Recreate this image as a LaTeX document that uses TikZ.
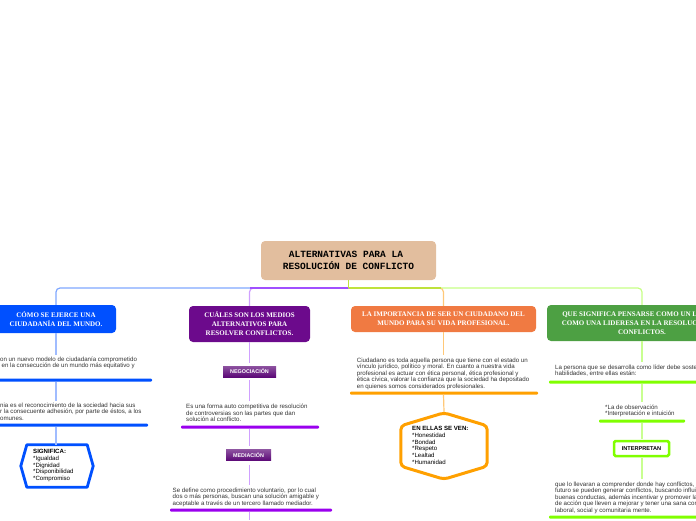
\documentclass[tikz,border=0pt]{standalone}
\usepackage{fontspec}
\setmainfont{Liberation Sans}
\newfontfamily\headfont{Liberation Serif}
\newfontfamily\rootfont{Liberation Mono}
\usetikzlibrary{calc}
\definecolor{rootc}{HTML}{E2BE9E}
\definecolor{blueC}{HTML}{0050FF}
\definecolor{blueL}{HTML}{80A8FF}
\definecolor{blueV}{HTML}{A0BCFF}
\definecolor{purpC}{HTML}{6C0A8C}
\definecolor{purpH}{HTML}{A050FF}
\definecolor{purpV}{HTML}{D0A0FF}
\definecolor{purpT}{HTML}{9A00EE}
\definecolor{orC}{HTML}{F07A42}
\definecolor{orH}{HTML}{BEE23C}
\definecolor{orV}{HTML}{FFC878}
\definecolor{orT}{HTML}{FFA000}
\definecolor{grC}{HTML}{4DA043}
\definecolor{grH}{HTML}{C6FF86}
\definecolor{grV}{HTML}{C8FF90}
\definecolor{grT}{HTML}{80FF00}
\definecolor{bodyc}{HTML}{333333}
\begin{document}
\begin{tikzpicture}[x=1pt,y=-1pt,
  rootbox/.style={fill=rootc, rounded corners=4pt, minimum width=175pt, minimum height=39pt, inner sep=0pt,
    font=\rootfont\bfseries\fontsize{9.5}{12}\selectfont, align=center},
  headbox/.style={rounded corners=4pt, text=white, inner sep=0pt, align=center,
    font=\headfont\bfseries\fontsize{7}{9}\selectfont},
  body/.style={font=\fontsize{6.15}{6.5}\selectfont, text=bodyc, align=left, inner sep=0pt, anchor=north west},
  hexbody/.style={font=\fontsize{6.1}{6.7}\selectfont, text=black, align=left, inner sep=0pt, anchor=north west},
  bar/.style={minimum height=3pt, inner sep=0pt, rounded corners=1pt},
  tagbox/.style={inner sep=0pt, text=white, font=\bfseries\fontsize{5.4}{6}\selectfont,
    top color=#1!70!white, bottom color=#1},
  conn/.style={line width=1.2pt},
  hexshape/.style={minimum width=#1, inner sep=0pt}
]
\useasboundingbox (0,0) rectangle (696,520);

% root
\node[rootbox] (root) at (348.5,260.5) {ALTERNATIVAS PARA LA\hspace*{5pt}\\RESOLUCIÓN DE CONFLICTO};

% branch heads
\node[headbox, fill=blueC, minimum width=120pt, minimum height=28pt] (b1) at (56,319)
  {CÓMO SE EJERCE UNA\\CIUDADANÍA DEL MUNDO.};
\node[headbox, fill=purpC, minimum width=121pt, minimum height=36pt] (p1) at (249.5,324)
  {CUÁLES SON LOS MEDIOS\\ALTERNATIVOS PARA\\RESOLVER CONFLICTOS.};
\node[headbox, fill=orC, minimum width=185pt, minimum height=26pt] (o1) at (443.5,319)
  {LA IMPORTANCIA DE SER UN CIUDADANO DEL\\MUNDO PARA SU VIDA PROFESIONAL.};
\node[headbox, fill=grC, minimum width=190pt, minimum height=36pt] (g1) at (642,323)
  {QUE SIGNIFICA PENSARSE COMO UN LÍDER O\\COMO UNA LIDERESA EN LA RESOLUCIÓN DE\\CONFLICTOS.};

% top connectors
\coordinate (jn) at (348.5,288);
\draw[conn, blueL, rounded corners=4pt] (jn) -| (b1.north);
\draw[conn, purpV, rounded corners=4pt] (jn) -| (p1.north);
\draw[conn, purpH] (jn) -- (jn -| p1.north);
\draw[conn, grH, rounded corners=4pt] (jn) -| (g1.north);
\draw[conn, orV, rounded corners=4pt] (jn) -| (o1.north);
\draw[conn, orH] (jn) -- ([xshift=-3pt]jn -| o1.north);
\draw[conn, orH] (root.south) -- (jn);

% ---------- blue column
\node[body] (t1a) at (0,356.5) {on un nuevo modelo de ciudadanía comprometido\\\hspace*{1.5pt}en la consecución de un mundo más equitativo y};
\node[bar, fill=blueC, minimum width=157pt] (u1a) at (73.5,380) {};
\node[body] (t1b) at (0,402.5) {nia es el reconocimiento de la sociedad hacia sus\\r la consecuente adhesión, por parte de éstos, a los\\omunes.};
\node[bar, fill=blueC, minimum width=153pt] (u1b) at (71.5,425) {};
\node[hexshape=60pt, minimum height=42pt] (h1) at (57,466) {};
\draw[blueC, line width=2.8pt, line join=round] (h1.north west) -- (h1.north east) -- ([xshift=6pt]h1.east)
  -- (h1.south east) -- (h1.south west) -- ([xshift=-6pt]h1.west) -- cycle;
\node[hexbody] (h1t) at (33,449.3) {\textbf{SIGNIFICA:}\\*Igualdad\\*Dignidad\\*Disponibilidad\\*Compromiso};
\draw[conn, blueV, shorten >=1.5pt] (b1.south) -- (b1.south |- t1a.north);
\draw[conn, blueV, shorten >=1.5pt] (u1a.south -| b1.south) -- (t1b.north -| b1.south);
\draw[conn, blueV] (u1b.south -| b1.south) -- (h1.north -| b1.south);

% ---------- purple column
\node[tagbox=purpC!85!black, minimum width=53pt, minimum height=11pt] (neg) at (249.5,371.5) {NEGOCIACIÓN};
\node[body] (tp1) at (186,404) {Es una forma auto competitiva de resolución\\de controversias son las partes que dan\\solución al conflicto.};
\node[bar, fill=purpT, minimum width=138pt] (up1) at (250,427) {};
\node[tagbox=purpC!85!black, minimum width=45pt, minimum height=11pt] (med) at (248.5,455) {MEDIACIÓN};
\node[body] (tp2) at (172.5,487.5) {Se define como procedimiento voluntario, por lo cual\\dos o más personas, buscan una solución amigable y\\aceptable a través de un tercero llamado mediador.};
\node[bar, fill=purpT, minimum width=162pt] (up2) at (251,510) {};
\coordinate (pend) at (249.5,520);
\draw[conn, purpV, shorten >=3pt] (p1.south) -- (neg.north);
\draw[conn, purpV, shorten <=3pt, shorten >=3pt] (neg.south) -- (neg.south |- tp1.north);
\draw[conn, purpV, shorten >=3pt] (up1.south -| p1.south) -- (med.north -| p1.south);
\draw[conn, purpV, shorten <=4pt, shorten >=3pt] (med.south -| p1.south) -- (tp2.north -| p1.south);
\draw[conn, purpV] (up2.south -| p1.south) -- (pend);

% ---------- orange column
\node[body] (to1) at (356.7,357.5) {Ciudadano es toda aquella persona que tiene con el estado un\\vínculo jurídico, político y moral. En cuanto a nuestra vida\\profesional es actuar con ética personal, ética profesional y\\ética cívica, valorar la confianza que la sociedad ha depositado\\en quienes somos considerados profesionales.};
\node[bar, fill=orT, minimum width=188pt] (uo1) at (444,393) {};
\node[hexshape=86pt, minimum height=40pt] (oh) at (444,446) {};
\draw[orT, line width=3pt, rounded corners=4pt] (oh.north west) -- ([yshift=13pt]oh.north) -- (oh.north east)
  -- (oh.south east) -- ([yshift=-13pt]oh.south) -- (oh.south west) -- cycle;
\node[hexbody] (oht) at (412,426.3) {\textbf{EN ELLAS SE VEN:}\\*Honestidad\\*Bondad\\*Respeto\\*Lealtad\\*Humanidad};
\draw[conn, orV, shorten >=3pt] (o1.south) -- (o1.south |- to1.north);
\draw[conn, orV] (uo1.south -| o1.south) -- ([yshift=14pt]oh.north);

% ---------- green column
\node[body] (tg1) at (555,364.5) {La persona que se desarrolla como líder debe sostener\\habilidades, entre ellas están:};
\node[bar, fill=grT, minimum width=156pt] (ug1) at (627,382) {};
\node[body] (tg2) at (605,404.5) {*La de observación\\*Interpretación e intuición};
\node[bar, fill=grT, minimum width=86pt] (ug2) at (642,421) {};
\node[draw=grT, line width=2.5pt, fill=white, rounded corners=1.5pt, minimum width=55pt, minimum height=15pt,
  inner sep=0pt, font=\bfseries\fontsize{5.6}{6}\selectfont] (intp) at (641.5,448.5) {INTERPRETAN};
\node[body] (tg3) at (555,481.5) {que lo llevaran a comprender donde hay conflictos, o\\futuro se pueden generar conflictos, buscando influir\\buenas conductas, además incentivar y promover las\\de acción que lleven a mejorar y tener una sana convivencia\\laboral, social y comunitaria mente.};
\node[bar, fill=grT, minimum width=156pt] (ug3) at (627,517) {};
\draw[conn, grV, shorten >=3pt] (g1.south) -- (g1.south |- tg1.north);
\draw[conn, grV, shorten >=3pt] (ug1.south -| g1.south) -- (tg2.north -| g1.south);
\draw[conn, grV, shorten >=1pt] (ug2.south -| g1.south) -- (intp.north -| g1.south);
\draw[conn, grV, shorten <=1pt, shorten >=3pt] (intp.south -| g1.south) -- (tg3.north -| g1.south);
\end{tikzpicture}
\end{document}
